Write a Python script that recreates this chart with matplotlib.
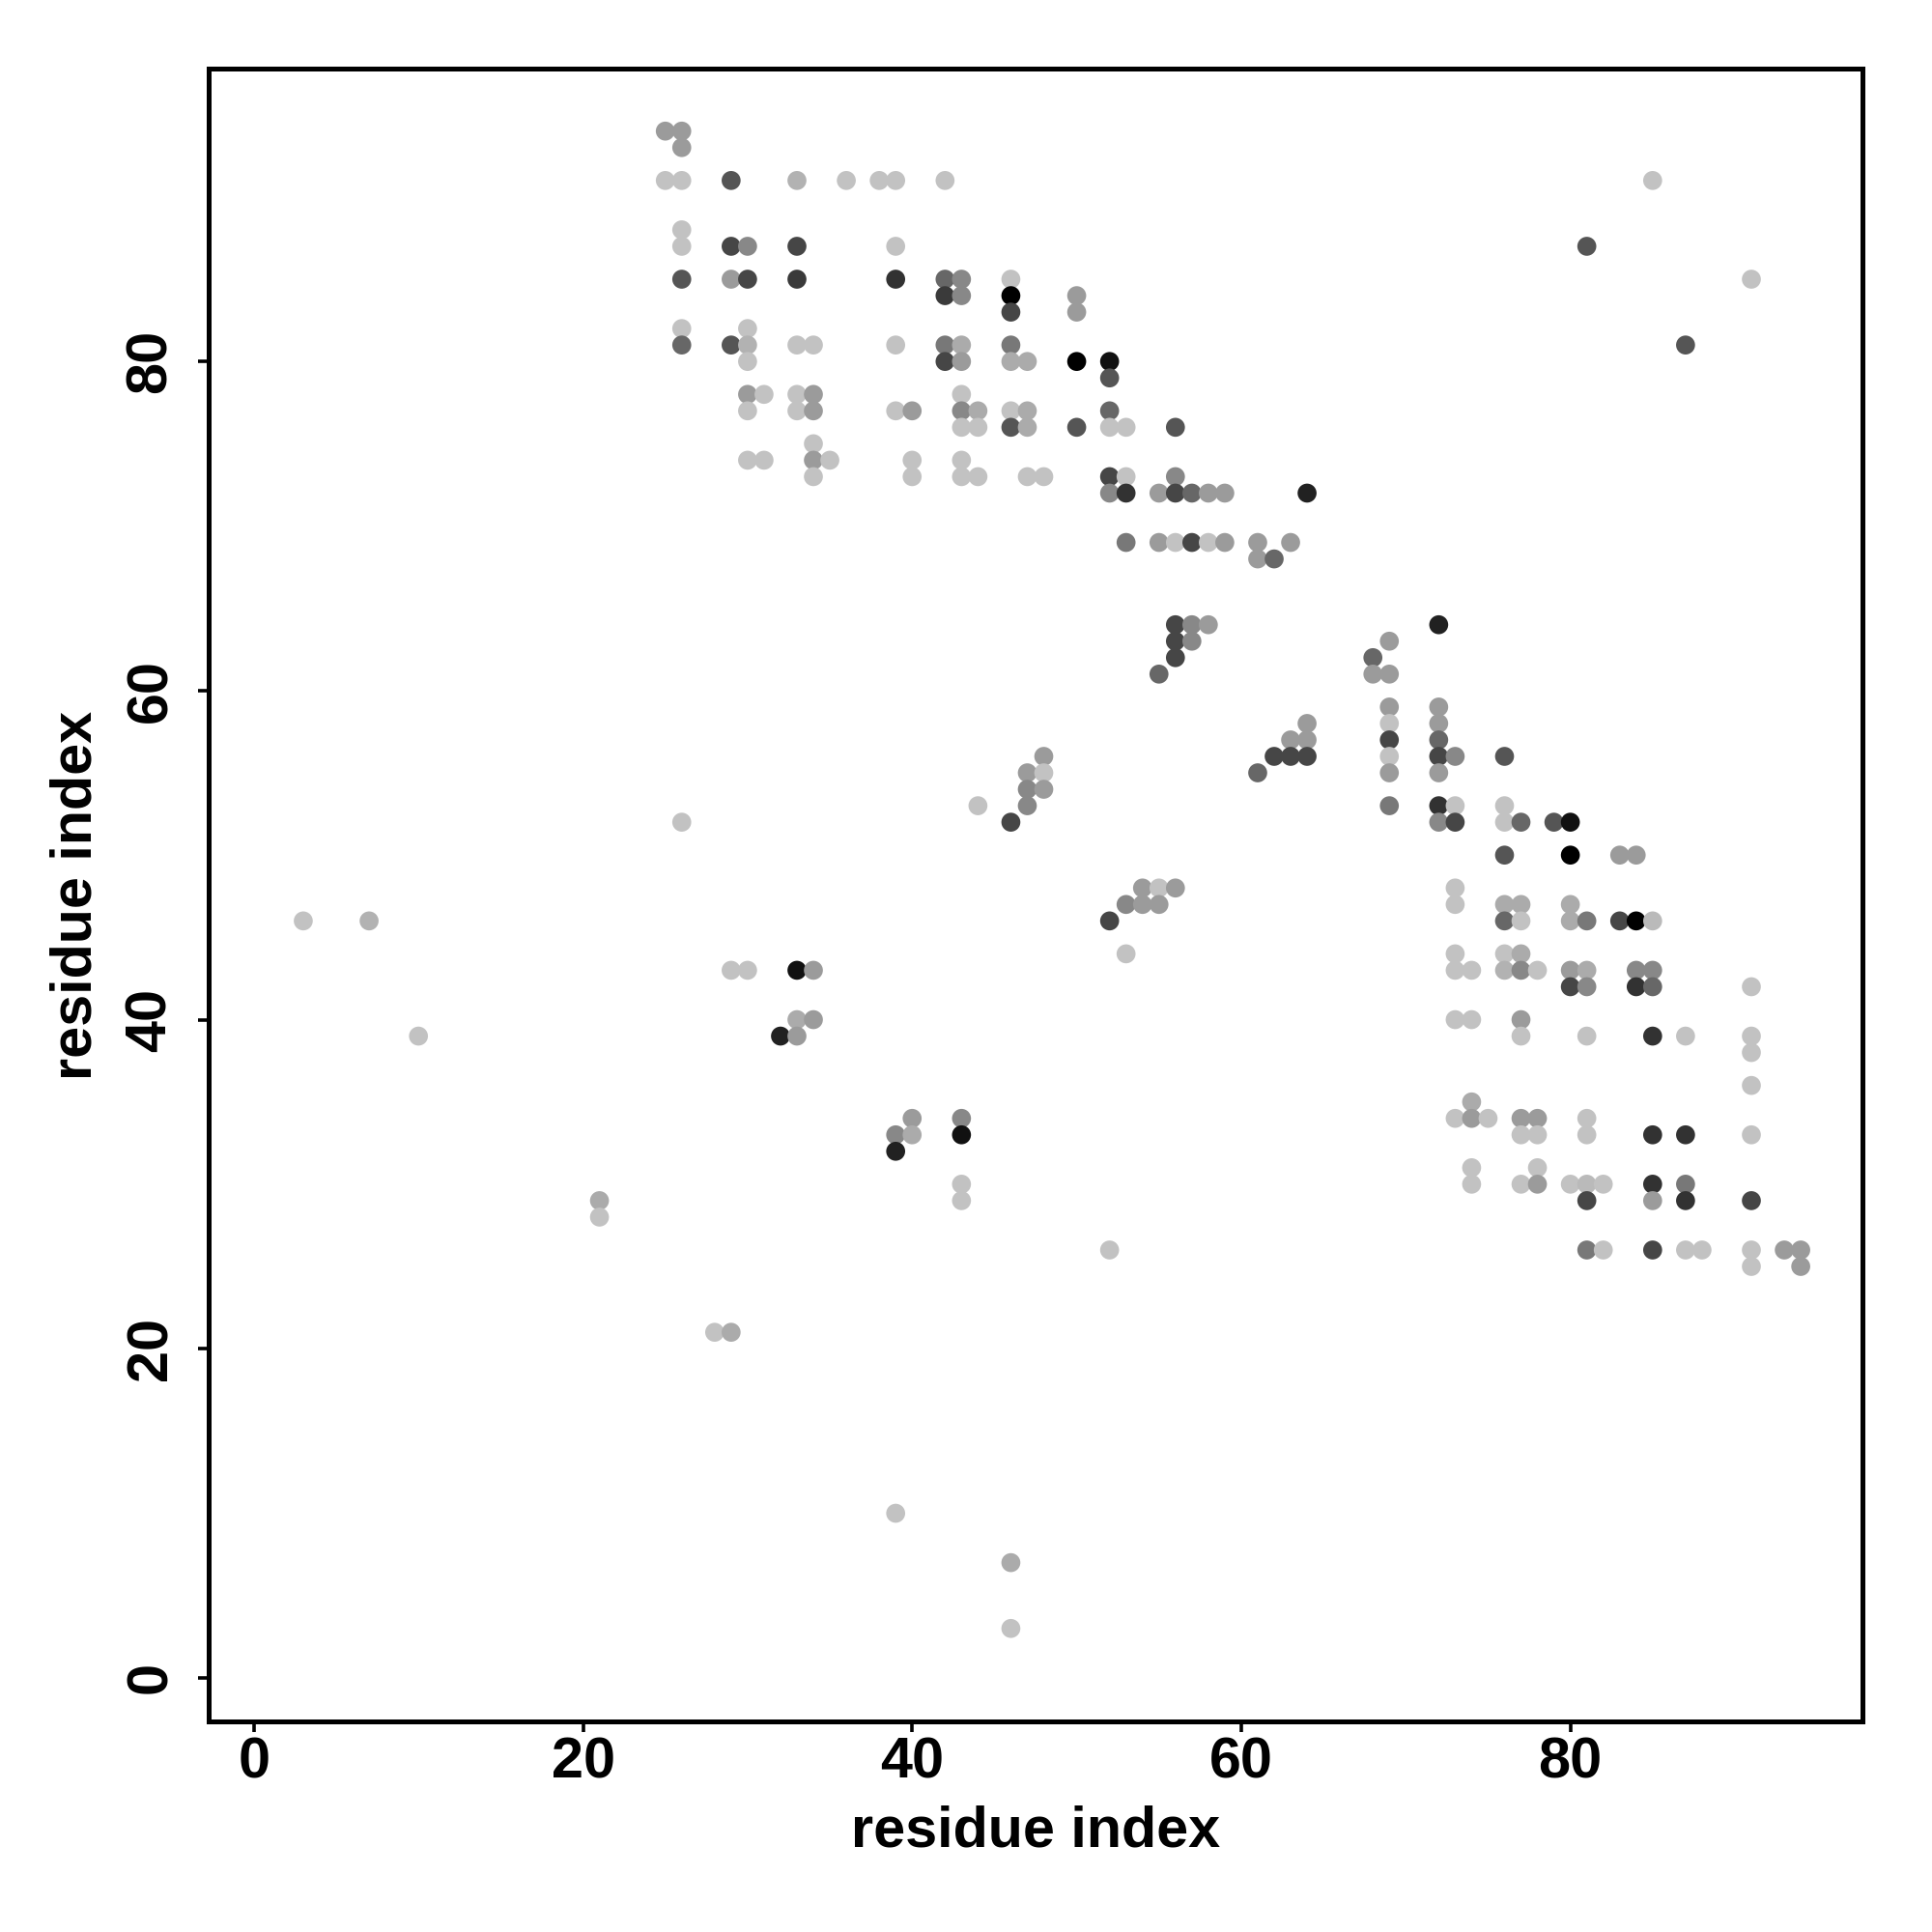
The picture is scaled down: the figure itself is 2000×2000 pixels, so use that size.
"""
Residue contact map, grey level = contact score.
"""

import matplotlib
matplotlib.use("Agg")
import matplotlib.pyplot as plt
import numpy as np

# contact points: (residue i, residue j, score 0..1)
res_i = [
    25, 26, 26,
    25, 26, 29, 33, 36, 38, 39, 42,
    26,
    26, 29, 30, 33, 39,
    26, 29, 30, 33, 39, 42, 43,
    42, 43,
    26, 30,
    26, 29, 30, 33, 34, 39, 42, 43,
    30, 42, 43,
    30, 31, 33, 34, 43,
    30, 33, 34, 39, 40, 43, 44,
    43, 44,
    34,
    30, 31, 34, 35, 40, 43,
    34, 40, 43, 44,
    46, 46, 46, 50, 50,
    46, 46, 47, 50, 52, 52,
    46, 47, 52,
    46, 47, 50, 52, 53, 56,
    47, 48, 52, 53, 56,
    52, 53, 55, 56, 57, 58, 59, 64,
    53, 55, 56, 57, 58, 59, 61, 63,
    61, 62,
    56, 57, 58, 56, 57, 56, 55,
    64, 63, 64, 62, 63, 64, 61,
    48, 47, 48, 47, 48, 44, 47, 46,
    54, 55, 56, 53, 54, 55, 52, 53,
    72, 69, 68, 68, 69,
    69, 72, 69, 72, 69, 72,
    69, 72, 73, 76,
    69, 72,
    69, 72, 73, 76,
    72, 73, 76, 77, 79, 80,
    76, 80, 83, 84,
    73,
    73, 76, 77, 80,
    76, 77, 80, 81, 83, 84, 85,
    73, 76, 77,
    73, 74, 76, 77, 78, 80, 81, 84, 85,
    80, 81, 84, 85, 91,
    73, 74, 77,
    77, 81, 85, 87, 91,
    91, 91,
    74,
    73, 74, 75, 77, 78, 81,
    77, 78, 81, 85, 87, 91,
    74, 78,
    74, 77, 78, 80, 81, 82, 85, 87,
    81, 85, 87, 91,
    81, 82, 85, 87, 88, 91, 93, 94,
    91, 94,
    85, 81, 91, 87,
    3, 7, 10, 21, 21,
    29, 30, 33, 34,
    33, 34, 32, 33,
    40, 39, 40, 39,
    43, 43, 43, 43,
    28, 29,
    39, 46, 46,
    52, 26,
]

res_j = [
    94, 94, 93,
    91, 91, 91, 91, 91, 91, 91, 91,
    88,
    87, 87, 87, 87, 87,
    85, 85, 85, 85, 85, 85, 85,
    84, 84,
    82, 82,
    81, 81, 81, 81, 81, 81, 81, 81,
    80, 80, 80,
    78, 78, 78, 78, 78,
    77, 77, 77, 77, 77, 77, 77,
    76, 76,
    75,
    74, 74, 74, 74, 74, 74,
    73, 73, 73, 73,
    85, 84, 83, 84, 83,
    81, 80, 80, 80, 80, 79,
    77, 77, 77,
    76, 76, 76, 76, 76, 76,
    73, 73, 73, 73, 73,
    72, 72, 72, 72, 72, 72, 72, 72,
    69, 69, 69, 69, 69, 69, 69, 69,
    68, 68,
    64, 64, 64, 63, 63, 62, 61,
    58, 57, 57, 56, 56, 56, 55,
    56, 55, 55, 54, 54, 53, 53, 52,
    48, 48, 48, 47, 47, 47, 46, 44,
    64, 63, 62, 61, 61,
    59, 59, 58, 58, 57, 57,
    56, 56, 56, 56,
    55, 55,
    53, 53, 53, 53,
    52, 52, 52, 52, 52, 52,
    50, 50, 50, 50,
    48,
    47, 47, 47, 47,
    46, 46, 46, 46, 46, 46, 46,
    44, 44, 44,
    43, 43, 43, 43, 43, 43, 43, 43, 43,
    42, 42, 42, 42, 42,
    40, 40, 40,
    39, 39, 39, 39, 39,
    38, 36,
    35,
    34, 34, 34, 34, 34, 34,
    33, 33, 33, 33, 33, 33,
    31, 31,
    30, 30, 30, 30, 30, 30, 30, 30,
    29, 29, 29, 29,
    26, 26, 26, 26, 26, 26, 26, 26,
    25, 25,
    91, 87, 85, 81,
    46, 46, 39, 29, 28,
    43, 43, 43, 43,
    40, 40, 39, 39,
    34, 33, 33, 32,
    34, 33, 30, 29,
    21, 21,
    10, 7, 3,
    26, 52,
]

score = [
    .2, .2, .2,
    0, 0, .56, .08, 0, 0, 0, 0,
    0,
    0, .64, .3, .64, 0,
    .56, .2, .64, .7, .74, .47, .3,
    .7, .3,
    0, 0,
    .47, .56, .08, 0, 0, 0, .38, .12,
    0, .64, .2,
    .2, 0, 0, .2, 0,
    0, 0, .2, 0, .2, .3, .12,
    0, 0,
    0,
    0, 0, .2, 0, 0, 0,
    0, 0, 0, 0,
    0, 1.0, .64, .2, .2,
    .38, .12, .12, 1.0, .91, .56,
    0, .12, .47,
    .56, .12, .56, 0, 0, .56,
    0, 0, .64, 0, .3,
    .3, .74, .2, .64, .47, .2, .2, .83,
    .38, .2, 0, .64, 0, .2, .2, .2,
    .2, .47,
    .64, .3, .2, .64, .3, .64, .47,
    .2, .2, .2, .64, .64, .64, .47,
    .2, .2, 0, .3, .2, 0, .3, .64,
    .2, 0, .2, .3, .2, .2, .64, 0,
    .83, .2, .47, .2, .2,
    .2, .2, 0, .2, .64, .47,
    0, .64, .3, .56,
    .2, .2,
    .38, .74, 0, 0,
    .3, .64, 0, .47, .56, .91,
    .56, 1.0, .2, .2,
    0,
    0, .12, .12, .12,
    .47, 0, .12, .38, .64, 1.0, .04,
    0, 0, .12,
    0, 0, .08, .3, 0, .2, .12, .3, .3,
    .64, .3, .74, .47, 0,
    0, 0, .2,
    0, 0, .74, 0, 0,
    0, 0,
    .12,
    0, .2, 0, .2, .2, 0,
    0, 0, 0, .74, .74, 0,
    0, 0,
    0, 0, .2, 0, .04, 0, .74, .38,
    .64, .2, .74, .64,
    .38, 0, .64, 0, 0, 0, .2, .2,
    0, .2,
    0, .56, 0, .56,
    0, .08, 0, .12, 0,
    0, 0, .91, .2,
    .12, .2, .83, .2,
    .2, .3, .12, .83,
    .3, .91, 0, 0,
    0, .12,
    0, .12, 0,
    0, 0,
]

x_ticks = [0, 20, 40, 60, 80]
y_ticks = [0, 20, 40, 60, 80]

grey = 0.76 * (1 - np.asarray(score))
colors = [(g, g, g) for g in grey]

plt.rcParams['font.family'] = ['Liberation Sans', 'DejaVu Sans']
plt.rcParams['font.weight'] = 'bold'
fs = 21.4

fig = plt.figure(figsize=(10, 10), dpi=200)
ax = fig.add_axes([0.108, 0.109, 0.856, 0.8555])

ax.scatter(res_i, res_j, s=50, c=colors, linewidths=0, zorder=2)

ax.set_xlim(-2.75, 97.75)
ax.set_ylim(-2.65, 97.8)
ax.set_xticks(x_ticks)
ax.set_yticks(y_ticks)
ax.set_xticklabels([str(t) for t in x_ticks], fontsize=fs, fontweight='bold')
ax.set_yticklabels([str(t) for t in y_ticks], fontsize=fs, fontweight='bold',
                   rotation=90, va='center')
ax.tick_params(direction='out', length=4, width=1.3)
ax.tick_params(axis='x', pad=1.5)
ax.tick_params(axis='y', pad=7.5)

for sp in ax.spines.values():
    sp.set_linewidth(1.8)

ax.set_xlabel('residue index', fontsize=fs, fontweight='bold', labelpad=6)
ax.set_ylabel('residue index', fontsize=fs, fontweight='bold', labelpad=8)

plt.savefig('out.png', dpi=200)
